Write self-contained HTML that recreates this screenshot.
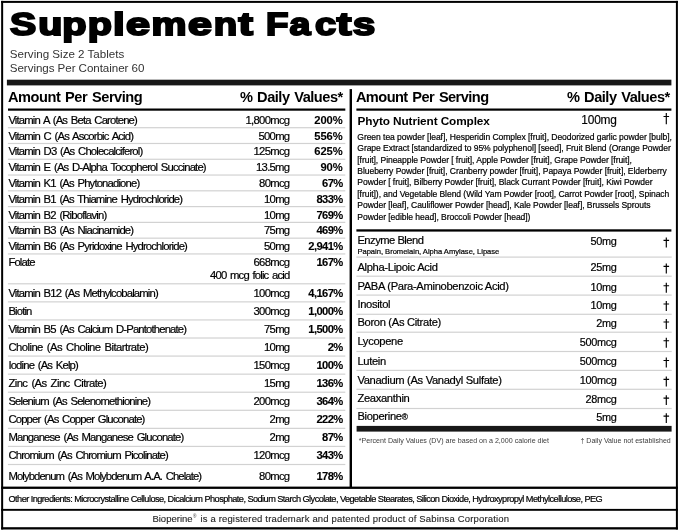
<!DOCTYPE html>
<html><head><meta charset="utf-8"><title>Supplement Facts</title>
<style>
html,body{margin:0;padding:0;background:#fff;}
body{width:679px;height:531px;overflow:hidden;}
svg{display:block;will-change:transform;font-family:"Liberation Sans",sans-serif;}
text{white-space:pre;}
</style></head><body>
<svg width="679" height="531" viewBox="0 0 679 531">
<rect x="0" y="0" width="679" height="531" fill="#fff"/>
<rect x="1.15" y="0.90" width="676.75" height="2.00" fill="#000"/>
<rect x="1.15" y="527.20" width="676.75" height="2.30" fill="#000"/>
<rect x="1.15" y="0.90" width="2.00" height="528.60" fill="#000"/>
<rect x="675.90" y="0.90" width="2.00" height="528.60" fill="#000"/>
<g font-size="32.2" font-weight="bold" stroke="#000" stroke-width="2.0" stroke-linejoin="miter" stroke-miterlimit="3">
<text transform="translate(10.09,35.0) scale(1.221,1)">S</text>
<text transform="translate(38.18,35.0) scale(1.225,1)">u</text>
<text transform="translate(62.31,35.0) scale(1.235,1)">p</text>
<text transform="translate(87.82,35.0) scale(1.229,1)">p</text>
<text transform="translate(112.97,35.0) scale(1.309,1)">l</text>
<text transform="translate(125.95,35.0) scale(1.339,1)">e</text>
<text transform="translate(151.43,35.0) scale(1.222,1)">m</text>
<text transform="translate(188.06,35.0) scale(1.333,1)">e</text>
<text transform="translate(213.86,35.0) scale(1.191,1)">n</text>
<text transform="translate(238.61,35.0) scale(1.340,1)">t</text>
<text transform="translate(265.98,35.0) scale(1.140,1)">F</text>
<text transform="translate(289.57,35.0) scale(1.169,1)">a</text>
<text transform="translate(315.00,35.0) scale(1.180,1)">c</text>
<text transform="translate(336.73,35.0) scale(1.366,1)">t</text>
<text transform="translate(352.73,35.0) scale(1.255,1)">s</text>
</g>
<text x="9.80" y="57.80" font-size="11.6" fill="#333">Serving Size 2 Tablets</text>
<text x="9.80" y="71.80" font-size="11.6" letter-spacing="-0.06" fill="#333">Servings Per Container 60</text>
<rect x="6.90" y="79.70" width="664.50" height="5.70" fill="#181818"/>
<text x="8.00" y="102.10" font-size="14.6" font-weight="bold" letter-spacing="-0.47" word-spacing="1.2">Amount Per Serving</text>
<text x="342.70" y="102.10" font-size="14.6" font-weight="bold" text-anchor="end" letter-spacing="-0.5" word-spacing="1.2">% Daily Values*</text>
<text x="355.90" y="102.10" font-size="14.6" font-weight="bold" letter-spacing="-0.56" word-spacing="1.2">Amount Per Serving</text>
<text x="669.70" y="102.10" font-size="14.6" font-weight="bold" text-anchor="end" letter-spacing="-0.5" word-spacing="1.2">% Daily Values*</text>
<rect x="8.00" y="108.50" width="337.30" height="2.20" fill="#000"/>
<rect x="356.40" y="108.50" width="315.00" height="2.20" fill="#000"/>
<rect x="349.60" y="89.10" width="2.40" height="398.00" fill="#000"/>
<text x="8.40" y="123.90" font-size="11.3" letter-spacing="-0.85" word-spacing="1.4" stroke="#000" stroke-width="0.2">Vitamin A (As Beta Carotene)</text>
<text x="289.40" y="123.90" font-size="11.3" text-anchor="end" letter-spacing="-0.72" stroke="#000" stroke-width="0.2">1,800mcg</text>
<text x="342.80" y="123.90" font-size="11.2" font-weight="bold" text-anchor="end" stroke="#000" stroke-width="0.1">200%</text>
<rect x="7.90" y="127.10" width="337.40" height="1.20" fill="#d2d2d2"/>
<text x="8.40" y="139.67" font-size="11.3" letter-spacing="-0.85" word-spacing="1.4" stroke="#000" stroke-width="0.2">Vitamin C (As Ascorbic Acid)</text>
<text x="289.40" y="139.67" font-size="11.3" text-anchor="end" letter-spacing="-0.72" stroke="#000" stroke-width="0.2">500mg</text>
<text x="342.80" y="139.67" font-size="11.2" font-weight="bold" text-anchor="end" stroke="#000" stroke-width="0.1">556%</text>
<rect x="7.90" y="142.88" width="337.40" height="1.20" fill="#d2d2d2"/>
<text x="8.40" y="155.44" font-size="11.3" letter-spacing="-0.85" word-spacing="1.4" stroke="#000" stroke-width="0.2">Vitamin D3 (As Cholecalciferol)</text>
<text x="289.40" y="155.44" font-size="11.3" text-anchor="end" letter-spacing="-0.72" stroke="#000" stroke-width="0.2">125mcg</text>
<text x="342.80" y="155.44" font-size="11.2" font-weight="bold" text-anchor="end" stroke="#000" stroke-width="0.1">625%</text>
<rect x="7.90" y="158.66" width="337.40" height="1.20" fill="#d2d2d2"/>
<text x="8.40" y="171.21" font-size="11.3" letter-spacing="-0.85" word-spacing="1.4" stroke="#000" stroke-width="0.2">Vitamin E (As D-Alpha Tocopherol Succinate)</text>
<text x="289.40" y="171.21" font-size="11.3" text-anchor="end" letter-spacing="-0.72" stroke="#000" stroke-width="0.2">13.5mg</text>
<text x="342.80" y="171.21" font-size="11.2" font-weight="bold" text-anchor="end" stroke="#000" stroke-width="0.1">90%</text>
<rect x="7.90" y="174.44" width="337.40" height="1.20" fill="#d2d2d2"/>
<text x="8.40" y="186.98" font-size="11.3" letter-spacing="-0.85" word-spacing="1.4" stroke="#000" stroke-width="0.2">Vitamin K1 (As Phytonadione)</text>
<text x="289.40" y="186.98" font-size="11.3" text-anchor="end" letter-spacing="-0.72" stroke="#000" stroke-width="0.2">80mcg</text>
<text x="342.70" y="186.98" font-size="11.2" font-weight="bold" text-anchor="end" letter-spacing="-0.6" stroke="#000" stroke-width="0.1">67%</text>
<rect x="7.90" y="190.22" width="337.40" height="1.20" fill="#d2d2d2"/>
<text x="8.40" y="202.75" font-size="11.3" letter-spacing="-0.85" word-spacing="1.4" stroke="#000" stroke-width="0.2">Vitamin B1 (As Thiamine Hydrochloride)</text>
<text x="289.40" y="202.75" font-size="11.3" text-anchor="end" letter-spacing="-0.72" stroke="#000" stroke-width="0.2">10mg</text>
<text x="342.70" y="202.75" font-size="11.2" font-weight="bold" text-anchor="end" letter-spacing="-0.6" stroke="#000" stroke-width="0.1">833%</text>
<rect x="7.90" y="206.00" width="337.40" height="1.20" fill="#d2d2d2"/>
<text x="8.40" y="218.52" font-size="11.3" letter-spacing="-0.85" word-spacing="1.4" stroke="#000" stroke-width="0.2">Vitamin B2 (Riboflavin)</text>
<text x="289.40" y="218.52" font-size="11.3" text-anchor="end" letter-spacing="-0.72" stroke="#000" stroke-width="0.2">10mg</text>
<text x="342.70" y="218.52" font-size="11.2" font-weight="bold" text-anchor="end" letter-spacing="-0.6" stroke="#000" stroke-width="0.1">769%</text>
<rect x="7.90" y="221.78" width="337.40" height="1.20" fill="#d2d2d2"/>
<text x="8.40" y="234.29" font-size="11.3" letter-spacing="-0.85" word-spacing="1.4" stroke="#000" stroke-width="0.2">Vitamin B3 (As Niacinamide)</text>
<text x="289.40" y="234.29" font-size="11.3" text-anchor="end" letter-spacing="-0.72" stroke="#000" stroke-width="0.2">75mg</text>
<text x="342.70" y="234.29" font-size="11.2" font-weight="bold" text-anchor="end" letter-spacing="-0.6" stroke="#000" stroke-width="0.1">469%</text>
<rect x="7.90" y="237.56" width="337.40" height="1.20" fill="#d2d2d2"/>
<text x="8.40" y="250.06" font-size="11.3" letter-spacing="-0.85" word-spacing="1.4" stroke="#000" stroke-width="0.2">Vitamin B6 (As Pyridoxine Hydrochloride)</text>
<text x="289.40" y="250.06" font-size="11.3" text-anchor="end" letter-spacing="-0.72" stroke="#000" stroke-width="0.2">50mg</text>
<text x="342.70" y="250.06" font-size="11.2" font-weight="bold" text-anchor="end" letter-spacing="-0.6" stroke="#000" stroke-width="0.1">2,941%</text>
<rect x="7.90" y="253.34" width="337.40" height="1.20" fill="#d2d2d2"/>
<text x="8.40" y="266.00" font-size="11.3" letter-spacing="-0.85" word-spacing="1.4" stroke="#000" stroke-width="0.2">Folate</text>
<text x="289.40" y="266.00" font-size="11.3" text-anchor="end" letter-spacing="-0.72" stroke="#000" stroke-width="0.2">668mcg</text>
<text x="342.70" y="266.00" font-size="11.2" font-weight="bold" text-anchor="end" letter-spacing="-0.6" stroke="#000" stroke-width="0.1">167%</text>
<text x="289.40" y="279.00" font-size="11.3" text-anchor="end" letter-spacing="-0.85" word-spacing="1.4" stroke="#000" stroke-width="0.2">400 mcg folic acid</text>
<rect x="7.90" y="283.20" width="337.40" height="1.20" fill="#d2d2d2"/>
<text x="8.40" y="296.80" font-size="11.3" letter-spacing="-0.85" word-spacing="1.4" stroke="#000" stroke-width="0.2">Vitamin B12 (As Methylcobalamin)</text>
<text x="289.40" y="296.80" font-size="11.3" text-anchor="end" letter-spacing="-0.72" stroke="#000" stroke-width="0.2">100mcg</text>
<text x="342.70" y="296.80" font-size="11.2" font-weight="bold" text-anchor="end" letter-spacing="-0.6" stroke="#000" stroke-width="0.1">4,167%</text>
<rect x="7.90" y="301.27" width="337.40" height="1.20" fill="#d2d2d2"/>
<text x="8.40" y="314.87" font-size="11.3" letter-spacing="-0.85" word-spacing="1.4" stroke="#000" stroke-width="0.2">Biotin</text>
<text x="289.40" y="314.87" font-size="11.3" text-anchor="end" letter-spacing="-0.72" stroke="#000" stroke-width="0.2">300mcg</text>
<text x="342.70" y="314.87" font-size="11.2" font-weight="bold" text-anchor="end" letter-spacing="-0.6" stroke="#000" stroke-width="0.1">1,000%</text>
<rect x="7.90" y="319.34" width="337.40" height="1.20" fill="#d2d2d2"/>
<text x="8.40" y="332.94" font-size="11.3" letter-spacing="-0.85" word-spacing="1.4" stroke="#000" stroke-width="0.2">Vitamin B5 (As Calcium D-Pantothenate)</text>
<text x="289.40" y="332.94" font-size="11.3" text-anchor="end" letter-spacing="-0.72" stroke="#000" stroke-width="0.2">75mg</text>
<text x="342.70" y="332.94" font-size="11.2" font-weight="bold" text-anchor="end" letter-spacing="-0.6" stroke="#000" stroke-width="0.1">1,500%</text>
<rect x="7.90" y="337.41" width="337.40" height="1.20" fill="#d2d2d2"/>
<text x="8.40" y="351.01" font-size="11.3" letter-spacing="-0.55" word-spacing="1.4" stroke="#000" stroke-width="0.2">Choline (As Choline Bitartrate)</text>
<text x="289.40" y="351.01" font-size="11.3" text-anchor="end" letter-spacing="-0.72" stroke="#000" stroke-width="0.2">10mg</text>
<text x="342.70" y="351.01" font-size="11.2" font-weight="bold" text-anchor="end" letter-spacing="-0.6" stroke="#000" stroke-width="0.1">2%</text>
<rect x="7.90" y="355.48" width="337.40" height="1.20" fill="#d2d2d2"/>
<text x="8.40" y="369.08" font-size="11.3" letter-spacing="-0.85" word-spacing="1.4" stroke="#000" stroke-width="0.2">Iodine (As Kelp)</text>
<text x="289.40" y="369.08" font-size="11.3" text-anchor="end" letter-spacing="-0.72" stroke="#000" stroke-width="0.2">150mcg</text>
<text x="342.70" y="369.08" font-size="11.2" font-weight="bold" text-anchor="end" letter-spacing="-0.6" stroke="#000" stroke-width="0.1">100%</text>
<rect x="7.90" y="373.55" width="337.40" height="1.20" fill="#d2d2d2"/>
<text x="8.40" y="387.15" font-size="11.3" letter-spacing="-0.57" word-spacing="1.4" stroke="#000" stroke-width="0.2">Zinc (As Zinc Citrate)</text>
<text x="289.40" y="387.15" font-size="11.3" text-anchor="end" letter-spacing="-0.72" stroke="#000" stroke-width="0.2">15mg</text>
<text x="342.70" y="387.15" font-size="11.2" font-weight="bold" text-anchor="end" letter-spacing="-0.6" stroke="#000" stroke-width="0.1">136%</text>
<rect x="7.90" y="391.62" width="337.40" height="1.20" fill="#d2d2d2"/>
<text x="8.40" y="405.22" font-size="11.3" letter-spacing="-0.85" word-spacing="1.4" stroke="#000" stroke-width="0.2">Selenium (As Selenomethionine)</text>
<text x="289.40" y="405.22" font-size="11.3" text-anchor="end" letter-spacing="-0.72" stroke="#000" stroke-width="0.2">200mcg</text>
<text x="342.70" y="405.22" font-size="11.2" font-weight="bold" text-anchor="end" letter-spacing="-0.6" stroke="#000" stroke-width="0.1">364%</text>
<rect x="7.90" y="409.69" width="337.40" height="1.20" fill="#d2d2d2"/>
<text x="8.40" y="423.29" font-size="11.3" letter-spacing="-0.85" word-spacing="1.4" stroke="#000" stroke-width="0.2">Copper (As Copper Gluconate)</text>
<text x="289.40" y="423.29" font-size="11.3" text-anchor="end" letter-spacing="-0.72" stroke="#000" stroke-width="0.2">2mg</text>
<text x="342.70" y="423.29" font-size="11.2" font-weight="bold" text-anchor="end" letter-spacing="-0.6" stroke="#000" stroke-width="0.1">222%</text>
<rect x="7.90" y="427.76" width="337.40" height="1.20" fill="#d2d2d2"/>
<text x="8.40" y="441.36" font-size="11.3" letter-spacing="-0.85" word-spacing="1.4" stroke="#000" stroke-width="0.2">Manganese (As Manganese Gluconate)</text>
<text x="289.40" y="441.36" font-size="11.3" text-anchor="end" letter-spacing="-0.72" stroke="#000" stroke-width="0.2">2mg</text>
<text x="342.70" y="441.36" font-size="11.2" font-weight="bold" text-anchor="end" letter-spacing="-0.6" stroke="#000" stroke-width="0.1">87%</text>
<rect x="7.90" y="445.83" width="337.40" height="1.20" fill="#d2d2d2"/>
<text x="8.40" y="459.43" font-size="11.3" letter-spacing="-0.85" word-spacing="1.4" stroke="#000" stroke-width="0.2">Chromium (As Chromium Picolinate)</text>
<text x="289.40" y="459.43" font-size="11.3" text-anchor="end" letter-spacing="-0.72" stroke="#000" stroke-width="0.2">120mcg</text>
<text x="342.70" y="459.43" font-size="11.2" font-weight="bold" text-anchor="end" letter-spacing="-0.6" stroke="#000" stroke-width="0.1">343%</text>
<rect x="7.90" y="463.90" width="337.40" height="1.20" fill="#d2d2d2"/>
<text x="8.40" y="479.70" font-size="11.3" letter-spacing="-0.9" word-spacing="1.4" stroke="#000" stroke-width="0.2">Molybdenum (As Molybdenum A.A. Chelate)</text>
<text x="289.40" y="479.70" font-size="11.3" text-anchor="end" letter-spacing="-0.72" stroke="#000" stroke-width="0.2">80mcg</text>
<text x="342.70" y="479.70" font-size="11.2" font-weight="bold" text-anchor="end" letter-spacing="-0.6" stroke="#000" stroke-width="0.1">178%</text>
<text x="357.60" y="124.50" font-size="11.8" font-weight="bold" letter-spacing="-0.1">Phyto Nutrient Complex</text>
<text x="616.70" y="124.40" font-size="11.9" text-anchor="end" letter-spacing="-0.2" stroke="#000" stroke-width="0.15">100mg</text>
<path d="M666.30 113.10V124.20M663.50 116.50H669.10" stroke="#000" stroke-width="1.15" fill="none"/>
<text x="357.30" y="139.60" font-size="8.55" letter-spacing="-0.06" stroke="#000" stroke-width="0.2">Green tea powder [leaf], Hesperidin Complex [fruit], Deodorized garlic powder [bulb],</text>
<text x="357.30" y="151.05" font-size="8.55" letter-spacing="-0.06" stroke="#000" stroke-width="0.2">Grape Extract [standardized to 95% polyphenol] [seed], Fruit Blend (Orange Powder</text>
<text x="357.30" y="162.50" font-size="8.55" letter-spacing="-0.06" stroke="#000" stroke-width="0.2">[fruit], Pineapple Powder [ fruit], Apple Powder [fruit], Grape Powder [fruit],</text>
<text x="357.30" y="173.95" font-size="8.55" letter-spacing="-0.06" stroke="#000" stroke-width="0.2">Blueberry Powder [fruit], Cranberry powder [fruit], Papaya Powder [fruit], Elderberry</text>
<text x="357.30" y="185.40" font-size="8.55" letter-spacing="-0.06" stroke="#000" stroke-width="0.2">Powder [ fruit], Bilberry Powder [fruit], Black Currant Powder [fruit], Kiwi Powder</text>
<text x="357.30" y="196.85" font-size="8.55" letter-spacing="-0.06" stroke="#000" stroke-width="0.2">[fruit]), and Vegetable Blend (Wild Yam Powder [root], Carrot Powder [root], Spinach</text>
<text x="357.30" y="208.30" font-size="8.55" letter-spacing="-0.06" stroke="#000" stroke-width="0.2">Powder [leaf], Cauliflower Powder [head], Kale Powder [leaf], Brussels Sprouts</text>
<text x="357.30" y="219.75" font-size="8.55" letter-spacing="-0.06" stroke="#000" stroke-width="0.2">Powder [edible head], Broccoli Powder [head])</text>
<rect x="356.40" y="229.30" width="315.00" height="2.30" fill="#000"/>
<text x="357.40" y="244.00" font-size="11.2" letter-spacing="-0.5" stroke="#000" stroke-width="0.2">Enzyme Blend</text>
<text x="616.50" y="245.20" font-size="10.9" text-anchor="end" letter-spacing="-0.32" stroke="#000" stroke-width="0.2">50mg</text>
<path d="M666.30 237.50V247.40M663.50 240.40H669.10" stroke="#000" stroke-width="1.15" fill="none"/>
<text x="357.40" y="253.80" font-size="7.6" letter-spacing="-0.02" stroke="#000" stroke-width="0.2">Papain, Bromelain, Alpha Amylase, Lipase</text>
<rect x="356.40" y="256.50" width="315.30" height="1.20" fill="#d2d2d2"/>
<text x="357.40" y="270.60" font-size="11.2" letter-spacing="-0.33" stroke="#000" stroke-width="0.2">Alpha-Lipoic Acid</text>
<text x="616.50" y="271.20" font-size="10.9" text-anchor="end" letter-spacing="-0.32" stroke="#000" stroke-width="0.2">25mg</text>
<path d="M666.30 263.50V273.40M663.50 266.40H669.10" stroke="#000" stroke-width="1.15" fill="none"/>
<rect x="356.40" y="275.60" width="315.30" height="1.20" fill="#d2d2d2"/>
<text x="357.40" y="289.90" font-size="11.2" letter-spacing="-0.33" stroke="#000" stroke-width="0.2">PABA (Para-Aminobenzoic Acid)</text>
<text x="616.50" y="290.50" font-size="10.9" text-anchor="end" letter-spacing="-0.32" stroke="#000" stroke-width="0.2">10mg</text>
<path d="M666.30 282.80V292.70M663.50 285.70H669.10" stroke="#000" stroke-width="1.15" fill="none"/>
<rect x="356.40" y="294.50" width="315.30" height="1.20" fill="#d2d2d2"/>
<text x="357.40" y="308.20" font-size="11.2" letter-spacing="-0.33" stroke="#000" stroke-width="0.2">Inositol</text>
<text x="616.50" y="308.80" font-size="10.9" text-anchor="end" letter-spacing="-0.32" stroke="#000" stroke-width="0.2">10mg</text>
<path d="M666.30 301.10V311.00M663.50 304.00H669.10" stroke="#000" stroke-width="1.15" fill="none"/>
<rect x="356.40" y="313.70" width="315.30" height="1.20" fill="#d2d2d2"/>
<text x="357.40" y="326.20" font-size="11.2" letter-spacing="-0.33" stroke="#000" stroke-width="0.2">Boron (As Citrate)</text>
<text x="616.50" y="326.80" font-size="10.9" text-anchor="end" letter-spacing="-0.32" stroke="#000" stroke-width="0.2">2mg</text>
<path d="M666.30 319.10V329.00M663.50 322.00H669.10" stroke="#000" stroke-width="1.15" fill="none"/>
<rect x="356.40" y="331.60" width="315.30" height="1.20" fill="#d2d2d2"/>
<text x="357.40" y="344.90" font-size="11.2" letter-spacing="-0.33" stroke="#000" stroke-width="0.2">Lycopene</text>
<text x="616.50" y="345.50" font-size="10.9" text-anchor="end" letter-spacing="-0.32" stroke="#000" stroke-width="0.2">500mcg</text>
<path d="M666.30 337.80V347.70M663.50 340.70H669.10" stroke="#000" stroke-width="1.15" fill="none"/>
<rect x="356.40" y="350.90" width="315.30" height="1.20" fill="#d2d2d2"/>
<text x="357.40" y="364.70" font-size="11.2" letter-spacing="-0.33" stroke="#000" stroke-width="0.2">Lutein</text>
<text x="616.50" y="365.30" font-size="10.9" text-anchor="end" letter-spacing="-0.32" stroke="#000" stroke-width="0.2">500mcg</text>
<path d="M666.30 357.60V367.50M663.50 360.50H669.10" stroke="#000" stroke-width="1.15" fill="none"/>
<rect x="356.40" y="369.80" width="315.30" height="1.20" fill="#d2d2d2"/>
<text x="357.40" y="383.60" font-size="11.2" letter-spacing="-0.33" stroke="#000" stroke-width="0.2">Vanadium (As Vanadyl Sulfate)</text>
<text x="616.50" y="384.20" font-size="10.9" text-anchor="end" letter-spacing="-0.32" stroke="#000" stroke-width="0.2">100mcg</text>
<path d="M666.30 376.50V386.40M663.50 379.40H669.10" stroke="#000" stroke-width="1.15" fill="none"/>
<rect x="356.40" y="388.70" width="315.30" height="1.20" fill="#d2d2d2"/>
<text x="357.40" y="402.30" font-size="11.2" letter-spacing="-0.33" stroke="#000" stroke-width="0.2">Zeaxanthin</text>
<text x="616.50" y="402.90" font-size="10.9" text-anchor="end" letter-spacing="-0.32" stroke="#000" stroke-width="0.2">28mcg</text>
<path d="M666.30 395.20V405.10M663.50 398.10H669.10" stroke="#000" stroke-width="1.15" fill="none"/>
<rect x="356.40" y="407.90" width="315.30" height="1.20" fill="#d2d2d2"/>
<text x="357.40" y="420.30" font-size="11.2" letter-spacing="-0.33" stroke="#000" stroke-width="0.2">Bioperine</text>
<text x="616.50" y="420.90" font-size="10.9" text-anchor="end" letter-spacing="-0.32" stroke="#000" stroke-width="0.2">5mg</text>
<path d="M666.30 413.20V423.10M663.50 416.10H669.10" stroke="#000" stroke-width="1.15" fill="none"/>
<text x="401.70" y="420.30" font-size="8.3" stroke="#000" stroke-width="0.2">®</text>
<rect x="356.60" y="425.90" width="315.00" height="5.70" fill="#181818"/>
<text x="358.70" y="443.30" font-size="7.12" fill="#3c3c3c">*Percent Daily Values (DV) are based on a 2,000 calorie diet</text>
<text x="670.80" y="443.30" font-size="7.06" text-anchor="end" fill="#3c3c3c">† Daily Value not established</text>
<rect x="1.15" y="486.60" width="676.75" height="2.30" fill="#000"/>
<text x="8.50" y="502.10" font-size="9.2" letter-spacing="-0.4" textLength="593.8" lengthAdjust="spacing" stroke="#000" stroke-width="0.2">Other Ingredients: Microcrystalline Cellulose, Dicalcium Phosphate, Sodium Starch Glycolate, Vegetable Stearates, Silicon Dioxide, Hydroxypropyl Methylcellulose, PEG</text>
<rect x="1.15" y="508.90" width="676.75" height="1.90" fill="#000"/>
<text x="152.40" y="521.90" font-size="9.5" fill="#262626" textLength="40.2" lengthAdjust="spacing" stroke="#262626" stroke-width="0.12">Bioperine</text>
<text x="193.00" y="518.40" font-size="4.6" fill="#2e2e2e">®</text>
<text x="200.40" y="521.90" font-size="9.5" fill="#262626" textLength="308.6" lengthAdjust="spacing" stroke="#262626" stroke-width="0.12">is a registered trademark and patented product of Sabinsa Corporation</text>
</svg>
</body></html>
